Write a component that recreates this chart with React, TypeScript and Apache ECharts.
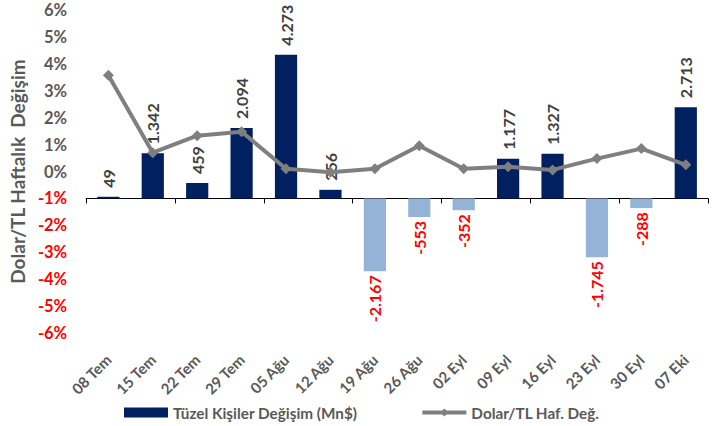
import React, { useEffect, useRef } from "react";
import * as echarts from "echarts";

const categories = ["08 Tem", "15 Tem", "22 Tem", "29 Tem", "05 Ağu", "12 Ağu", "19 Ağu", "26 Ağu", "02 Eyl", "09 Eyl", "16 Eyl", "23 Eyl", "30 Eyl", "07 Eki"];
const flows = [49, 1342, 459, 2094, 4273, 256, -2167, -553, -352, 1177, 1327, -1745, -288, 2713];
const usdTry = [3.58, 0.7, 1.33, 1.48, 0.1, -0.03, 0.1, 0.96, 0.1, 0.18, 0.06, 0.48, 0.85, 0.25];
const pctTicks = { min: -6, max: 6, interval: 1 };
const flowAxis = { min: -4000, max: 5600, interval: 800 };

const BAR_NAME = "Tüzel Kişiler Değişim (Mn$)";
const LINE_NAME = "Dolar/TL Haf. Değ.";
const FONT = "Lato";
const GREY = "#595959";

function fmt(v: number): string {
  const s = Math.abs(v).toString().replace(/\B(?=(\d{3})+(?!\d))/g, ".");
  return (v < 0 ? "-" : "") + s;
}

export default function App() {
  const ref = useRef<HTMLDivElement>(null);
  useEffect(() => {
    if (!ref.current) return;
    const chart = echarts.init(ref.current, null, { renderer: "svg" });
    const barData = flows.map((v) =>
      v >= 0
        ? { value: v }
        : {
            value: v,
            itemStyle: { color: "#95B3D7" },
            label: { position: "bottom", align: "right", color: "#FF0000", distance: 4 },
          }
    );
    chart.setOption({
      animation: false,
      textStyle: { fontFamily: FONT },
      grid: { left: 81, right: 10, top: 10, bottom: 93, containLabel: false },
      legend: {
        data: [{ name: BAR_NAME, icon: "rect" }, { name: LINE_NAME }],
        left: 119,
        top: 400,
        itemWidth: 44,
        itemHeight: 10,
        itemGap: 63,
        lineStyle: { width: 4 },
        textStyle: { fontFamily: FONT, fontWeight: "bold", fontSize: 15.3, color: GREY },
      },
      xAxis: [
        {
          type: "category",
          data: categories,
          position: "bottom",
          axisLine: { onZero: true, onZeroAxisIndex: 1, lineStyle: { color: "#000", width: 1 } },
          axisTick: { show: true, length: 5, lineStyle: { color: "#000" } },
          axisLabel: { show: false },
          splitLine: { show: false },
        },
        {
          type: "category",
          data: categories,
          position: "bottom",
          axisLine: { show: false },
          axisTick: { show: false },
          axisLabel: {
            rotate: 45,
            margin: 24,
            fontFamily: FONT,
            fontWeight: "bold",
            fontSize: 15,
            color: GREY,
          },
          splitLine: { show: false },
        },
      ],
      yAxis: [
        {
          type: "value",
          min: pctTicks.min,
          max: pctTicks.max,
          interval: pctTicks.interval,
          name: "Dolar/TL Haftalık  Değişim",
          nameLocation: "middle",
          nameRotate: 90,
          nameGap: 47,
          nameTextStyle: { fontFamily: FONT, fontWeight: "bold", fontSize: 19, color: GREY },
          axisLine: { show: false },
          axisTick: { show: false },
          splitLine: { show: false },
          axisLabel: {
            formatter: (v: number) => `${v}%`,
            fontFamily: FONT,
            fontWeight: "bold",
            fontSize: 16.5,
            margin: 19,
            color: (v: any) => (Number(v) < 0 ? "#FF0000" : GREY),
          },
        },
        {
          type: "value",
          min: flowAxis.min,
          max: flowAxis.max,
          interval: flowAxis.interval,
          show: false,
          splitLine: { show: false },
        },
      ],
      series: [
        {
          name: BAR_NAME,
          type: "bar",
          xAxisIndex: 0,
          yAxisIndex: 1,
          barWidth: "50%",
          itemStyle: { color: "#002060" },
          data: barData,
          label: {
            show: true,
            position: "top",
            rotate: 90,
            align: "left",
            verticalAlign: "middle",
            distance: 9,
            color: "#404040",
            fontFamily: FONT,
            fontWeight: "bold",
            fontSize: 16,
            formatter: (p: any) => fmt(p.value),
          },
          z: 2,
        },
        {
          name: LINE_NAME,
          type: "line",
          xAxisIndex: 0,
          yAxisIndex: 0,
          data: usdTry,
          symbol: "diamond",
          symbolSize: 11,
          lineStyle: { color: "#7F7F7F", width: 4 },
          itemStyle: { color: "#7F7F7F" },
          z: 3,
        },
      ],
    });
    return () => chart.dispose();
  }, []);
  return <div ref={ref} style={{ width: 718, height: 426, position: "absolute", left: 0, top: 0 }} />;
}
